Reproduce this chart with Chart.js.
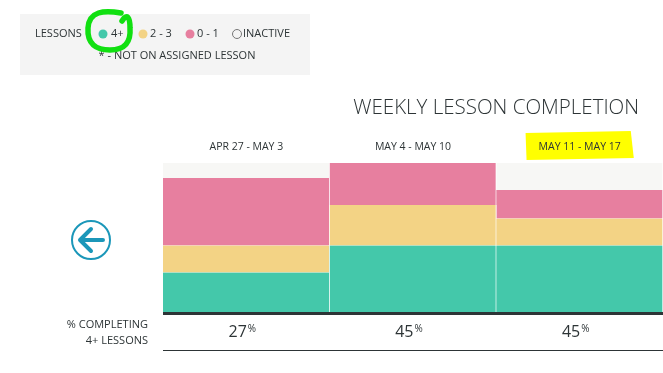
<!DOCTYPE html>
<html>
<head>
<meta charset="utf-8">
<script src="https://cdn.jsdelivr.net/npm/chart.js@4"></script>
<style>
  html, body { margin: 0; padding: 0; background: #fff; }
  #wrap { width: 663px; height: 373px; position: relative; }
</style>
</head>
<body>
<div id="wrap"><canvas id="myChart" width="663" height="373"></canvas></div>
<script>
const weeks = ['APR 27 - MAY 3', 'MAY 4 - MAY 10', 'MAY 11 - MAY 17'];
const fourPlus = [27, 45, 45];
const twoToThree = [18, 27, 18];
const zeroToOne = [45, 28, 19];
const inactive = [10, 0, 18];
const highlightWeek = 2;

const GREEN = '#44c8aa', YELLOW = '#f3d385', PINK = '#e77f9f', GREY = '#f7f7f5';
const TEXT = '#2d3436';
const FONT = '"Open Sans", "Liberation Sans", sans-serif';

// everything around the plot: legend box, title, week labels, arrow, bottom row
const decorations = {
    id: 'decorations',
    beforeDraw(chart) {
        const ctx = chart.ctx;
        const x = chart.scales.x;
        ctx.save();

        // legend box
        ctx.fillStyle = '#f4f4f4';
        ctx.fillRect(20, 14, 290, 61);
        ctx.textBaseline = 'middle';
        ctx.fillStyle = TEXT;
        ctx.font = '11px ' + FONT;
        ctx.textAlign = 'left';
        ctx.fillText('LESSONS', 35, 34);
        const items = [
            {dot: 103, label: '4+', tx: 111, col: GREEN},
            {dot: 143, label: '2 - 3', tx: 150, col: YELLOW},
            {dot: 190, label: '0 - 1', tx: 197, col: PINK},
            {dot: 237, label: 'INACTIVE', tx: 243, col: null}
        ];
        items.forEach(it => {
            ctx.beginPath();
            ctx.arc(it.dot, 34, 4.5, 0, Math.PI * 2);
            if (it.col) {
                ctx.fillStyle = it.col;
                ctx.fill();
            } else {
                ctx.strokeStyle = '#777';
                ctx.lineWidth = 1;
                ctx.stroke();
            }
            ctx.fillStyle = TEXT;
            ctx.fillText(it.label, it.tx, 34);
        });
        ctx.textAlign = 'center';
        ctx.fillText('* - NOT ON ASSIGNED LESSON', 177, 56);

        // green hand-drawn highlight
        ctx.strokeStyle = '#11e011';
        ctx.lineWidth = 5.5;
        ctx.lineCap = 'round';
        ctx.lineJoin = 'round';
        ctx.beginPath();
        ctx.moveTo(121, 13);
        ctx.bezierCurveTo(104, 10, 89, 11, 88, 28);
        ctx.bezierCurveTo(87, 44, 96, 50, 110, 50);
        ctx.bezierCurveTo(125, 50, 131, 42, 130, 28);
        ctx.bezierCurveTo(130, 17, 127, 13, 122, 21);
        ctx.stroke();

        // title
        ctx.fillStyle = TEXT;
        ctx.font = '300 20.5px ' + FONT;
        ctx.textAlign = 'right';
        ctx.fillText('WEEKLY LESSON COMPLETION', 639, 108);

        // week labels
        ctx.font = '10.5px ' + FONT;
        ctx.textAlign = 'center';
        weeks.forEach((w, i) => {
            const cx = x.getPixelForValue(i);
            if (i === highlightWeek) {
                const tw = ctx.measureText(w).width;
                ctx.fillStyle = '#ffff00';
                ctx.beginPath();
                ctx.moveTo(cx - tw / 2 - 13, 133);
                ctx.lineTo(cx + tw / 2 + 10, 131);
                ctx.lineTo(cx + tw / 2 + 13, 158);
                ctx.lineTo(cx - tw / 2 - 12, 160);
                ctx.closePath();
                ctx.fill();
            }
            ctx.fillStyle = TEXT;
            ctx.fillText(w, cx, 147);
        });

        // back arrow
        ctx.strokeStyle = '#1b97b9';
        ctx.lineWidth = 2;
        ctx.beginPath();
        ctx.arc(91, 240, 19, 0, Math.PI * 2);
        ctx.stroke();
        ctx.lineWidth = 4;
        ctx.lineCap = 'round';
        ctx.lineJoin = 'round';
        ctx.beginPath();
        ctx.moveTo(103, 240);
        ctx.lineTo(80, 240);
        ctx.moveTo(91, 229);
        ctx.lineTo(80, 240);
        ctx.lineTo(91, 251);
        ctx.stroke();

        ctx.restore();
    },
    afterDraw(chart) {
        const ctx = chart.ctx;
        const x = chart.scales.x;
        const area = chart.chartArea;
        ctx.save();

        // baseline and bottom rule
        ctx.fillStyle = '#2d3436';
        ctx.fillRect(area.left, area.bottom - 1, area.right - area.left, 3);
        ctx.fillRect(area.left, 350, area.right - area.left, 1);

        // row label
        ctx.fillStyle = TEXT;
        ctx.textBaseline = 'middle';
        ctx.textAlign = 'right';
        ctx.font = '11px ' + FONT;
        ctx.fillText('% COMPLETING', 148, 325);
        ctx.fillText('4+ LESSONS', 148, 341);

        // percent completing 4+
        fourPlus.forEach((v, i) => {
            const cx = x.getPixelForValue(i) - 4;
            ctx.font = '16px ' + FONT;
            const nw = ctx.measureText(String(v)).width;
            ctx.font = '10px ' + FONT;
            const pw = ctx.measureText('%').width;
            const start = cx - (nw + pw + 1) / 2;
            ctx.textAlign = 'left';
            ctx.font = '16px ' + FONT;
            ctx.fillText(String(v), start, 332);
            ctx.font = '10px ' + FONT;
            ctx.fillText('%', start + nw + 1, 329);
        });
        ctx.restore();
    }
};

const barStyle = {
    borderColor: '#ffffff',
    borderWidth: {top: 0, right: 1, bottom: 0, left: 0},
    borderSkipped: false,
    barPercentage: 1,
    categoryPercentage: 1
};

const data = {
    labels: weeks,
    datasets: [
        Object.assign({label: '4+', data: fourPlus, backgroundColor: GREEN}, barStyle),
        Object.assign({label: '2 - 3', data: twoToThree, backgroundColor: YELLOW}, barStyle),
        Object.assign({label: '0 - 1', data: zeroToOne, backgroundColor: PINK}, barStyle),
        Object.assign({label: 'INACTIVE', data: inactive, backgroundColor: GREY}, barStyle)
    ]
};

const config = {
    type: 'bar',
    data: data,
    options: {
        responsive: false,
        animation: false,
        events: [],
        layout: {padding: {left: 163, right: 0, top: 163, bottom: 60}},
        plugins: {legend: {display: false}, tooltip: {enabled: false}},
        scales: {
            x: {stacked: true, display: false},
            y: {stacked: true, display: false, min: 0, max: 100}
        }
    },
    plugins: [decorations]
};

new Chart(document.getElementById('myChart').getContext('2d'), config);
</script>
</body>
</html>
